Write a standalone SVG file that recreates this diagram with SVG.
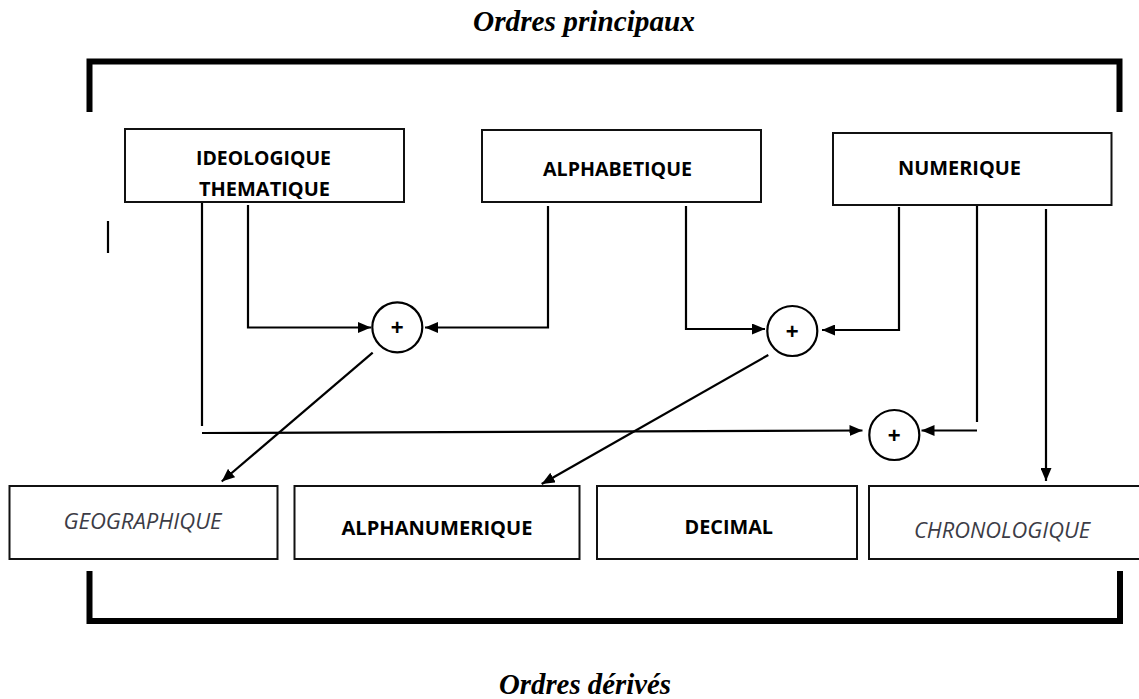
<svg xmlns="http://www.w3.org/2000/svg" width="1139" height="699" viewBox="0 0 1139 699">
  <style>
    .title { font-family: "Liberation Serif", "Times New Roman", serif; font-weight: bold; font-style: italic; font-size: 30px; fill: #000; }
    .box { fill: #fff; stroke: #111; stroke-width: 2; }
    .lbl { font-family: "Open Sans", "Noto Sans", sans-serif; font-weight: bold; font-size: 20px; fill: #000; }
    .lbl-it { font-family: "Open Sans", "Noto Sans", sans-serif; font-style: italic; font-size: 21px; fill: #3c3c46; }
    .bracket { fill: none; stroke: #000; stroke-width: 6; }
    .wire { fill: none; stroke: #000; stroke-width: 2.2; }
    .sum { fill: #fff; stroke: #000; stroke-width: 2.2; }
    .plus { font-family: "Liberation Sans", Arial, sans-serif; font-weight: bold; font-size: 22px; fill: #000; }
  </style>
  <defs>
    <marker id="arrow" markerUnits="userSpaceOnUse" markerWidth="13" markerHeight="11" refX="13" refY="5.5" orient="auto">
      <path d="M0,0 L13,5.5 L0,11 z" fill="#000"/>
    </marker>
  </defs>

  <rect width="1139" height="699" fill="#fff"/>

  <!-- section titles -->
  <text class="title" x="473" y="31" textLength="222" lengthAdjust="spacingAndGlyphs">Ordres principaux</text>
  <text class="title" x="499" y="694" textLength="172" lengthAdjust="spacingAndGlyphs">Ordres dérivés</text>

  <!-- grouping brackets -->
  <path class="bracket" d="M89.5,112 V61.5 H1119.5 V112"/>
  <path class="bracket" d="M89.5,571 V621 H1120 V571"/>
  <line class="wire" x1="108" y1="221" x2="108" y2="253"/>

  <!-- connectors -->
  <g id="connectors">
    <line class="wire" x1="202" y1="202" x2="202" y2="426"/>
    <line class="wire" x1="202" y1="433" x2="862.5" y2="430.5" marker-end="url(#arrow)"/>
    <polyline class="wire" points="248,205 248,327.5 371,327.5" marker-end="url(#arrow)"/>
    <polyline class="wire" points="548,206 548,327.5 425,327.5" marker-end="url(#arrow)"/>
    <polyline class="wire" points="686,206 686,329 765,329" marker-end="url(#arrow)"/>
    <polyline class="wire" points="899,207 899,330 822,330" marker-end="url(#arrow)"/>
    <line class="wire" x1="977" y1="199" x2="977" y2="422"/>
    <line class="wire" x1="977" y1="430.5" x2="921.5" y2="430.5" marker-end="url(#arrow)"/>
    <line class="wire" x1="1046" y1="209" x2="1046" y2="481" marker-end="url(#arrow)"/>
    <line class="wire" x1="372.7" y1="352.7" x2="221.7" y2="481.5" marker-end="url(#arrow)"/>
    <line class="wire" x1="768.3" y1="355" x2="541.7" y2="484" marker-end="url(#arrow)"/>
  </g>

  <!-- principal orders -->
  <g id="node-ideologique">
    <rect class="box" x="125" y="129" width="279" height="73"/>
    <text class="lbl" x="196" y="164.5" textLength="135" lengthAdjust="spacingAndGlyphs">IDEOLOGIQUE</text>
    <text class="lbl" x="199" y="196" textLength="131" lengthAdjust="spacingAndGlyphs">THEMATIQUE</text>
  </g>
  <g id="node-alphabetique">
    <rect class="box" x="482" y="130" width="279" height="72"/>
    <text class="lbl" x="543" y="175.5" textLength="149" lengthAdjust="spacingAndGlyphs">ALPHABETIQUE</text>
  </g>
  <g id="node-numerique">
    <rect class="box" x="833" y="133" width="278.5" height="72"/>
    <text class="lbl" x="898" y="174.5" textLength="123" lengthAdjust="spacingAndGlyphs">NUMERIQUE</text>
  </g>

  <!-- combination points -->
  <g id="sum-1">
    <circle class="sum" cx="397.3" cy="327.3" r="25"/>
    <text class="plus" x="397.3" y="335" text-anchor="middle">+</text>
  </g>
  <g id="sum-2">
    <circle class="sum" cx="792.3" cy="331" r="25"/>
    <text class="plus" x="792.3" y="339" text-anchor="middle">+</text>
  </g>
  <g id="sum-3">
    <circle class="sum" cx="894.3" cy="435" r="25"/>
    <text class="plus" x="894.3" y="443" text-anchor="middle">+</text>
  </g>

  <!-- derived orders -->
  <g id="node-geographique">
    <rect class="box" x="9.5" y="486" width="268" height="73"/>
    <text class="lbl-it" x="63.5" y="529" textLength="158" lengthAdjust="spacingAndGlyphs">GEOGRAPHIQUE</text>
  </g>
  <g id="node-alphanumerique">
    <rect class="box" x="294.5" y="486" width="285" height="73"/>
    <text class="lbl" x="341.5" y="534.5" textLength="191" lengthAdjust="spacingAndGlyphs">ALPHANUMERIQUE</text>
  </g>
  <g id="node-decimal">
    <rect class="box" x="597" y="486" width="260" height="73"/>
    <text class="lbl" x="684.5" y="534" textLength="88.5" lengthAdjust="spacingAndGlyphs">DECIMAL</text>
  </g>
  <g id="node-chronologique">
    <rect class="box" x="869" y="486" width="275" height="73"/>
    <text class="lbl-it" x="914" y="538" textLength="176" lengthAdjust="spacingAndGlyphs">CHRONOLOGIQUE</text>
  </g>
</svg>
